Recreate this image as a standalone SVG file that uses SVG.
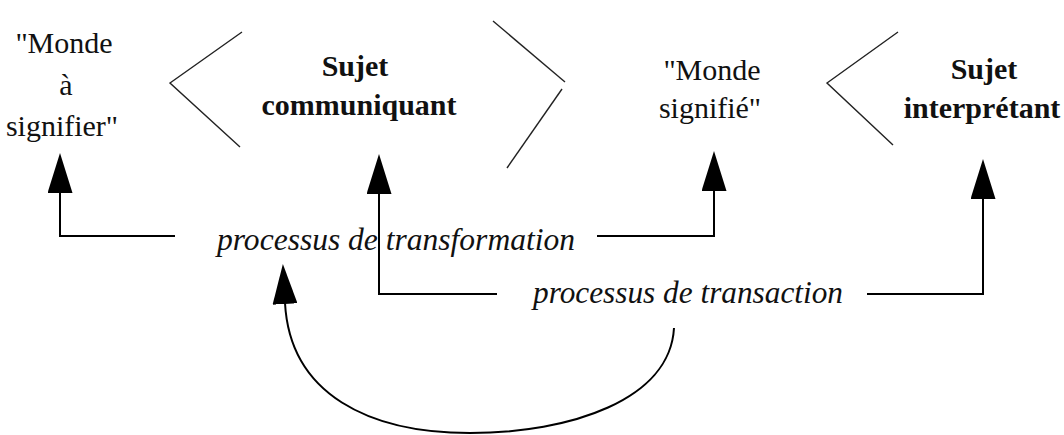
<svg xmlns="http://www.w3.org/2000/svg" width="1064" height="435" viewBox="0 0 1064 435">
<style>
.reg{font-family:"Liberation Serif","Times New Roman",serif;font-size:30px;fill:#111;text-anchor:middle}
.bold{font-family:"Liberation Serif","Times New Roman",serif;font-size:30px;font-weight:bold;fill:#111;text-anchor:middle}
.it{font-family:"Liberation Serif","Times New Roman",serif;font-size:31px;font-style:italic;fill:#111}
.chev{fill:none;stroke:#222;stroke-width:1.4}
.conn{fill:none;stroke:#000;stroke-width:2}
</style>
<defs>
<marker id="head" viewBox="0 0 40 25" markerWidth="40" markerHeight="25" refX="1" refY="12.5" orient="auto" markerUnits="userSpaceOnUse">
<path d="M0,0 L40,12.5 L0,25 Z" fill="#000"/>
</marker>
</defs>
<rect width="1064" height="435" fill="#fff"/>
<g id="monde-a-signifier">
<text class="reg" x="64" y="53">"Monde</text>
<text class="reg" x="66" y="95">à</text>
<text class="reg" x="62" y="136">signifier"</text>
</g>
<g id="chevron-1"><polyline class="chev" points="242,32 170,83 240,147"/></g>
<g id="sujet-communiquant">
<text class="bold" x="355" y="76">Sujet</text>
<text class="bold" x="359" y="115">communiquant</text>
</g>
<g id="chevron-2">
<line class="chev" x1="493" y1="21" x2="565" y2="82"/>
<line class="chev" x1="562" y1="89" x2="507" y2="168"/>
</g>
<g id="monde-signifie">
<text class="reg" x="712" y="80">"Monde</text>
<text class="reg" x="710" y="118">signifié"</text>
</g>
<g id="chevron-3"><polyline class="chev" points="898,32 827,83 893,145"/></g>
<g id="sujet-interpretant">
<text class="bold" x="984" y="79">Sujet</text>
<text class="bold" x="982" y="118">interprétant</text>
</g>
<g id="processus-transformation">
<text class="it" x="217" y="250" textLength="358" lengthAdjust="spacingAndGlyphs">processus de transformation</text>
</g>
<g id="processus-transaction">
<text class="it" x="533" y="303" textLength="310" lengthAdjust="spacingAndGlyphs">processus de transaction</text>
</g>
<g id="connectors">
<path class="conn" d="M175,236 H60 V192" marker-end="url(#head)"/>
<path class="conn" d="M597,236 H714 V190" marker-end="url(#head)"/>
<path class="conn" d="M497,294 H379 V193" marker-end="url(#head)"/>
<path class="conn" d="M867,294 H983 V198" marker-end="url(#head)"/>
<path class="conn" d="M674,328 C670,400 570,433 470,433 C370,433 290,395 285,303" marker-end="url(#head)"/>
</g>
</svg>
